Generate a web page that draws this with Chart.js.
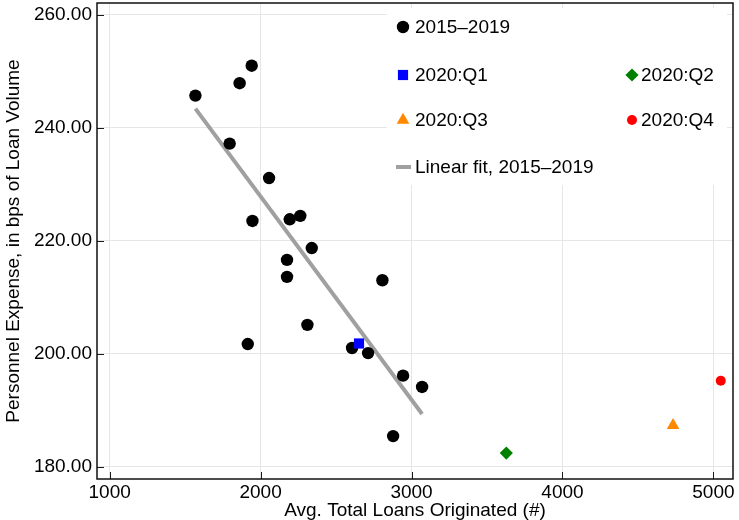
<!DOCTYPE html>
<html>
<head>
<meta charset="utf-8">
<title>Personnel expense vs. loans originated</title>
<script src="https://cdn.jsdelivr.net/npm/chart.js@4.4.1/dist/chart.umd.min.js"></script>
<style>
  html, body { margin: 0; padding: 0; background: #fff; }
  #wrap { width: 739px; height: 520px; }
</style>
</head>
<body>
<div id="wrap"><canvas id="scatter" width="739" height="520"></canvas></div>
<script>
// 2015-2019 quarters (black dots)
var loans2015to2019 = [1568, 1861, 1941, 1795, 2056, 1946, 2193, 2263, 2339, 2175,
                       2175, 2807, 2310, 1915, 2606, 2712, 2944, 3070, 2878];
var expense2015to2019 = [245.7, 247.9, 251.0, 237.2, 231.1, 223.5, 223.8, 224.4, 218.7, 216.6,
                         213.6, 213.0, 205.1, 201.7, 201.0, 200.1, 196.1, 194.1, 185.4];

// 2020 quarters
var quarters2020 = ["2020:Q1", "2020:Q2", "2020:Q3", "2020:Q4"];
var loans2020 = [2652, 3628, 4733, 5049];
var expense2020 = [201.8, 182.4, 187.3, 195.2];

// linear fit endpoints, 2015-2019
var fitLoans = [1568, 3070];
var fitExpense = [243.4, 189.3];

var xTicks = [1000, 2000, 3000, 4000, 5000];
var yTicks = [180, 200, 220, 240, 260];

var FONT = "'Liberation Sans', Arial, Helvetica, sans-serif";

function pairs(xs, ys) {
  return xs.map(function (x, i) { return { x: x, y: ys[i] }; });
}

var quarterStyles = [
  { pointStyle: "rect", color: "#0000ff", radius: 7.2 },
  { pointStyle: "rectRot", color: "#008000", radius: 6.6 },
  { pointStyle: "triangle", color: "#ff8800", radius: 7.3 },
  { pointStyle: "circle", color: "#ff0000", radius: 5 }
];

var datasets = [
  {
    label: "2015\u20132019",
    data: pairs(loans2015to2019, expense2015to2019),
    pointStyle: "circle",
    backgroundColor: "#000",
    pointRadius: 6.2,
    pointBorderWidth: 0,
    order: 2
  }
];

quarters2020.forEach(function (q, i) {
  var s = quarterStyles[i];
  datasets.push({
    label: q,
    data: [{ x: loans2020[i], y: expense2020[i] }],
    pointStyle: s.pointStyle,
    backgroundColor: s.color,
    pointRadius: s.radius,
    pointBorderWidth: 0,
    order: 1
  });
});

datasets.push({
  label: "Linear fit, 2015\u20132019",
  data: pairs(fitLoans, fitExpense),
  showLine: true,
  borderColor: "#a0a0a0",
  borderWidth: 4,
  pointRadius: 0,
  fill: false,
  order: 3
});

/** inward tick marks + black box round the plot */
var frameTicks = {
  id: "frameTicks",
  beforeDatasetsDraw: function (chart) {
    var ctx = chart.ctx, a = chart.chartArea;
    var xs = chart.scales.x, ys = chart.scales.y;
    ctx.save();
    ctx.strokeStyle = "#1a1a1a";
    ctx.lineWidth = 1;
    ctx.beginPath();
    xTicks.forEach(function (v) {
      var px = Math.round(xs.getPixelForValue(v)) + 0.5;
      ctx.moveTo(px, a.bottom);
      ctx.lineTo(px, a.bottom - 7);
    });
    yTicks.forEach(function (v) {
      var py = Math.round(ys.getPixelForValue(v)) + 0.5;
      ctx.moveTo(a.left, py);
      ctx.lineTo(a.left + 7, py);
    });
    ctx.stroke();
    ctx.lineWidth = 1.5;
    ctx.strokeStyle = "#111";
    ctx.strokeRect(a.left, a.top, a.right - a.left, a.bottom - a.top);
    ctx.restore();
  }
};

/** two-column legend box in the upper right of the plot */
var boxLegend = {
  id: "boxLegend",
  afterDraw: function (chart) {
    var ctx = chart.ctx, a = chart.chartArea;
    var bx = a.left + 290, by = a.top + 5;
    var bw = a.right - 6 - bx, bh = 177;
    var ds = chart.data.datasets;
    var cols = [bx + 16, bx + 245];
    var rows = [by + 19, by + 67, by + 112, by + 159];
    var slots = [[0, 0], [0, 1], [1, 1], [0, 2], [1, 2], [0, 3]];

    ctx.save();
    ctx.fillStyle = "#fff";
    ctx.fillRect(bx, by, bw, bh);
    ctx.font = "19px " + FONT;
    ctx.textBaseline = "middle";
    ctx.textAlign = "left";

    ds.forEach(function (d, i) {
      var mx = cols[slots[i][0]], my = rows[slots[i][1]];
      if (d.showLine) {
        ctx.strokeStyle = d.borderColor;
        ctx.lineWidth = 4;
        ctx.beginPath();
        ctx.moveTo(mx - 7, my);
        ctx.lineTo(mx + 8, my);
        ctx.stroke();
      } else {
        ctx.fillStyle = d.backgroundColor;
        Chart.helpers.drawPoint(ctx, {
          pointStyle: d.pointStyle,
          radius: d.pointRadius,
          rotation: 0,
          borderWidth: 0
        }, mx, my);
      }
      ctx.fillStyle = "#000";
      ctx.fillText(d.label, mx + (slots[i][0] ? 9 : 12), my + 1);
    });
    ctx.restore();
  }
};

Chart.defaults.font.family = FONT;
Chart.defaults.color = "#000";

new Chart(document.getElementById("scatter").getContext("2d"), {
  type: "scatter",
  data: { datasets: datasets },
  plugins: [frameTicks, boxLegend],
  options: {
    responsive: false,
    animation: false,
    events: [],
    layout: { autoPadding: false, padding: { top: 3, right: 6, bottom: 0, left: 0 } },
    plugins: {
      legend: { display: false },
      tooltip: { enabled: false }
    },
    scales: {
      x: {
        type: "linear",
        min: 916,
        max: 5130,
        afterBuildTicks: function (scale) {
          scale.ticks = xTicks.map(function (v) { return { value: v }; });
        },
        afterFit: function (scale) {
          scale.height = 41;
          scale.paddingLeft = 0;
          scale.paddingRight = 0;
        },
        grid: { color: "#e6e6e6", lineWidth: 1, drawTicks: false },
        border: { display: false },
        ticks: {
          padding: 2,
          maxRotation: 0,
          font: { size: 19 },
          callback: function (v) { return String(v); }
        },
        title: {
          display: true,
          text: "Avg. Total Loans Originated (#)",
          font: { size: 19, lineHeight: 1 },
          padding: 0
        }
      },
      y: {
        type: "linear",
        min: 177.8,
        max: 262.1,
        afterBuildTicks: function (scale) {
          scale.ticks = yTicks.map(function (v) { return { value: v }; });
        },
        afterFit: function (scale) {
          scale.width = 97;
          scale.paddingTop = 0;
          scale.paddingBottom = 0;
        },
        grid: { color: "#e6e6e6", lineWidth: 1, drawTicks: false },
        border: { display: false },
        ticks: {
          padding: 5,
          font: { size: 19 },
          callback: function (v) { return Number(v).toFixed(2); }
        },
        title: {
          display: true,
          text: "Personnel Expense, in bps of Loan Volume",
          font: { size: 19, lineHeight: 1 },
          padding: { top: 4, bottom: 0 }
        }
      }
    }
  }
});
</script>
</body>
</html>
